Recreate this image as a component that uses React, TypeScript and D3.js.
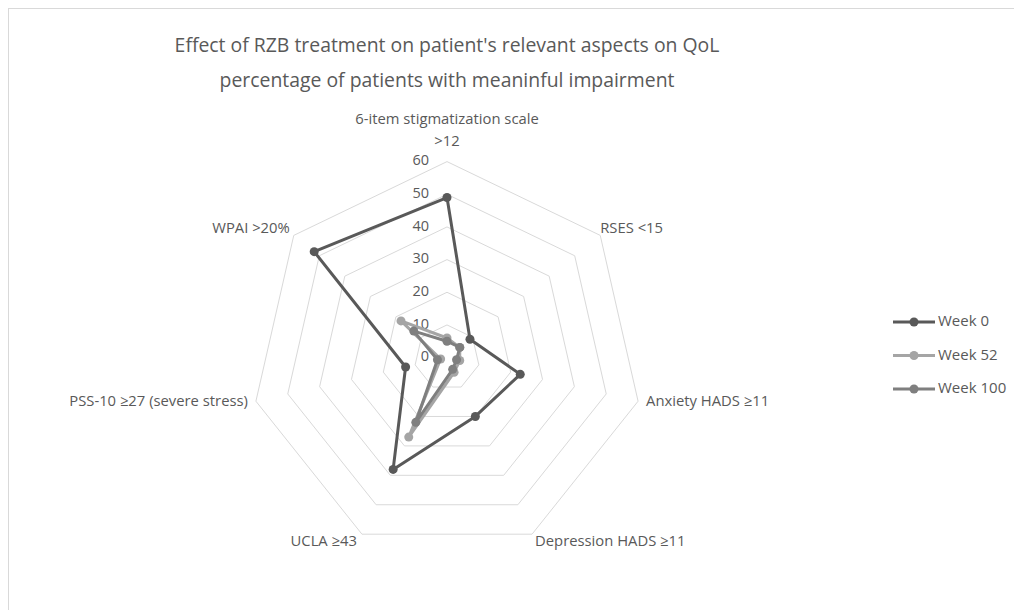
import * as d3 from 'd3'
import { type ReactElement } from 'react'

const axes = [
  ['6-item stigmatization scale', '>12'],
  ['RSES <15'],
  ['Anxiety HADS ≥11'],
  ['Depression HADS ≥11'],
  ['UCLA ≥43'],
  ['PSS-10 ≥27 (severe stress)'],
  ['WPAI >20%'],
]

const week0 = [49, 9, 23, 20, 38, 13, 52]
const week52 = [6, 5, 4, 5, 27, 2, 18]
const week100 = [5, 5, 3, 4, 22, 3, 13]

const ticks = [0, 10, 20, 30, 40, 50, 60]

const seriesList = [
  { name: 'Week 0', values: week0, color: '#595959' },
  { name: 'Week 52', values: week52, color: '#a5a5a5' },
  { name: 'Week 100', values: week100, color: '#7f7f7f' },
]

const font = '"Open Sans", sans-serif'
const textColor = '#595959'
const gridColor = '#d9d9d9'

export default function App(): ReactElement {
  const width = 1014
  const height = 602
  // svg sits at (8,8) because of the body margin
  const cx = 447 - 8
  const cy = 357.6 - 8
  const radius = 196

  const r = d3.scaleLinear().domain([0, 60]).range([0, radius])
  const angle = d3
    .scaleLinear()
    .domain([0, axes.length])
    .range([0, 2 * Math.PI])

  const point = (i: number, v: number): [number, number] => {
    const a = angle(i)
    return [cx + r(v) * Math.sin(a), cy - r(v) * Math.cos(a)]
  }

  const ring = (v: number) =>
    axes.map((_, i) => point(i, v).join(',')).join(' ')

  const lineGen = d3.line<[number, number]>().curve(d3.curveLinearClosed)

  // label offsets per axis, relative to the outer vertex
  const offsets: [number, number][] = [
    [0, -42],
    [0, -6],
    [8, 1],
    [3, 8],
    [-5, 8],
    [-8, 1],
    [-4, -6],
  ]
  const labelPos = axes.map((lines, i) => {
    const [x, y] = point(i, 60)
    const sx = Math.sin(angle(i))
    const anchor = sx > 0.1 ? 'start' : sx < -0.1 ? 'end' : 'middle'
    return { lines, x: x + offsets[i][0], y: y + offsets[i][1], anchor }
  })

  return (
    <svg width={width} height={height} style={{ display: 'block' }} fontFamily={font}>
      <rect x={0.5} y={0.5} width={width + 10} height={height + 10} fill="#fff" stroke={gridColor} />
      <text x={cx} y={52 - 8} textAnchor="middle" fontSize={19.4} fill={textColor}>
        Effect of RZB treatment on patient's relevant aspects on QoL
      </text>
      <text x={cx} y={87 - 8} textAnchor="middle" fontSize={19.4} fill={textColor}>
        percentage of patients with meaninful impairment
      </text>

      <g>
        {ticks.slice(1).map((t) => (
          <polygon key={t} points={ring(t)} fill="none" stroke={gridColor} strokeWidth={1} />
        ))}
      </g>

      {labelPos.map((l, i) => (
        <text key={i} x={l.x} y={l.y} textAnchor={l.anchor} fontSize={14.8} fill={textColor} dominantBaseline="middle">
          {l.lines.map((s, j) => (
            <tspan key={j} x={l.x} dy={j === 0 ? 0 : 22}>
              {s}
            </tspan>
          ))}
        </text>
      ))}

      {ticks.map((t) => (
        <text key={t} x={cx - 18} y={cy - r(t)} textAnchor="end" fontSize={14.5} fill={textColor} dominantBaseline="middle">
          {t}
        </text>
      ))}

      {seriesList.map((s) => {
        const pts = s.values.map((v, i) => point(i, v))
        return (
          <g key={s.name}>
            <path d={lineGen(pts) ?? ''} fill="none" stroke={s.color} strokeWidth={3} strokeLinejoin="round" />
            {pts.map((p, i) => (
              <circle key={i} cx={p[0]} cy={p[1]} r={4.5} fill={s.color} />
            ))}
          </g>
        )
      })}

      {seriesList.map((s, i) => {
        const y = 322 - 8 + i * 33.5
        return (
          <g key={s.name}>
            <line x1={893 - 8} x2={935 - 8} y1={y} y2={y} stroke={s.color} strokeWidth={3} />
            <circle cx={914 - 8} cy={y} r={4.5} fill={s.color} />
            <text x={938 - 8} y={y} fontSize={15} fill={textColor} dominantBaseline="middle">
              {s.name}
            </text>
          </g>
        )
      })}
    </svg>
  )
}
